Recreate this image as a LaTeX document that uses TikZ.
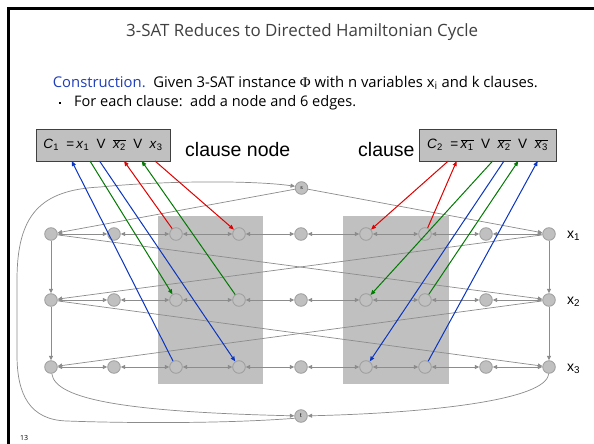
\documentclass[tikz,border=0pt]{standalone}
\usepackage{fontspec}
\usetikzlibrary{arrows.meta}
\setmainfont{Open Sans}
\newfontfamily\arialf{Liberation Sans}
\newfontfamily\symf{Liberation Serif}
\definecolor{titlegray}{HTML}{404040}
\definecolor{conblue}{HTML}{1F3FB8}
\definecolor{boxgray}{HTML}{C0C0C0}
\definecolor{edgegray}{HTML}{8C8C8C}
\definecolor{vtxline}{HTML}{9C9C9C}
\definecolor{litred}{HTML}{E00000}
\definecolor{litgreen}{HTML}{007A00}
\definecolor{litblue}{HTML}{0A35C0}
\newcommand{\vx}[1]{\textit{x}\textsubscript{#1}}
\newcommand{\nvx}[1]{$\overline{\mbox{\vx{#1}}}$}
\begin{document}
\begin{tikzpicture}[x=1pt,y=-1pt,
  vtx/.style={circle,minimum size=12.6pt,inner sep=0pt,fill=boxgray,draw=vtxline,line width=0.8pt},
  gedge/.style={draw=edgegray,line width=0.7pt,>={Triangle[length=4.5pt,width=4pt]}},
  cedge/.style={line width=1pt,-{Triangle[length=5pt,width=4pt]}},
  cbox/.style={rectangle,fill=boxgray,draw=black!75,line width=0.9pt,minimum width=134pt,minimum height=32pt,inner sep=0pt},
  lbl/.style={font=\arialf\fontsize{19.5}{22}\selectfont,inner sep=0pt,anchor=base west},
  rowlbl/.style={font=\arialf\fontsize{14}{16}\selectfont,inner sep=0pt,anchor=base west}]
\useasboundingbox (0,0) rectangle (594,444);
\fill[white] (0,0) rectangle (594,444);
% slide frame
\draw[line width=3pt,line join=miter] (8.6,444) -- (8.6,8.8) -- (594,8.8);

% heading and text
\node[inner sep=0pt,anchor=base west,text=titlegray] (title) at (126,36.5)
  {\resizebox{352pt}{!}{\fontsize{16}{19}\selectfont 3-SAT Reduces to Directed Hamiltonian Cycle}};
\node[inner sep=0pt,anchor=base west] (line1) at (52.7,87)
  {\resizebox{485pt}{!}{\fontsize{14}{17}\selectfont{\color{conblue}Construction.}\ \ Given 3-SAT instance {\symf Φ} with n variables x\textsubscript{i} and k clauses.}};
\node[fill=black,inner sep=0pt,minimum size=2.6pt] (bul) at (60,103) {};
\node[inner sep=0pt,anchor=base west] (line2) at (74,106.5)
  {\resizebox{282pt}{!}{\fontsize{14}{17}\selectfont For each clause:\ \ add a node and 6 edges.}};
\node[inner sep=0pt,anchor=base west,font=\fontsize{7}{8}\selectfont] (pg) at (20,440) {13};

% shaded clause gadgets
\fill[boxgray] (158,216) rectangle (263,384);
\fill[boxgray] (343,216) rectangle (449,384);

% clause nodes
\node[cbox] (C1) at (103,145)
  {\resizebox{119pt}{!}{\arialf\fontsize{14}{16}\selectfont\textit{C}\textsubscript{1}\ \ =\,\vx{1}\ \ V\ \ \nvx{2}\ \ V\ \ \vx{3}}};
\node[cbox,minimum width=137pt] (C2) at (487.5,145)
  {\resizebox{120.6pt}{!}{\arialf\fontsize{14}{16}\selectfont\textit{C}\textsubscript{2}\ \ =\,\nvx{1}\ \ V\ \ \nvx{2}\ \ V\ \ \nvx{3}}};
\node[lbl] (cn) at (185,156) {clause node};
\node[lbl] (cl) at (358,156.5) {clause};

% variable paths
\foreach \r/\y in {1/234,2/300,3/367}{
  \foreach \c/\x in {1/51,2/114,3/176,4/239,5/301,6/366,7/425,8/486,9/549}{
    \node[vtx] (v\r\c) at (\x,\y) {};
  }
}
\node[rowlbl] (l1) at (567,238) {x\textsubscript{1}};
\node[rowlbl] (l2) at (567,304.5) {x\textsubscript{2}};
\node[rowlbl] (l3) at (567,371) {x\textsubscript{3}};
\node[vtx,font=\arialf\fontsize{5}{5}\selectfont] (s) at (301.5,188) {s};
\node[vtx,font=\arialf\fontsize{6}{6}\selectfont] (t) at (301,416) {t};

\foreach \r in {1,2,3}{
  \foreach \c [evaluate=\c as \d using int(\c+1)] in {1,...,8}{
    \draw[gedge,<->] (v\r\c) -- (v\r\d);
  }
}
\draw[gedge,->] (v11) -- (v21);
\draw[gedge,->] (v21) -- (v31);
\draw[gedge,->] (v19) -- (v29);
\draw[gedge,->] (v29) -- (v39);
\draw[gedge,->] (v11) -- (v29);
\draw[gedge,->] (v19) -- (v21);
\draw[gedge,->] (v21) -- (v39);
\draw[gedge,->] (v29) -- (v31);
\draw[gedge,->] (s) -- (v11);
\draw[gedge,->] (s) -- (v19);
\draw[gedge,->] (v31) .. controls (55,400) and (130,412) .. (t);
\draw[gedge,->] (v39) .. controls (547,400) and (430,413) .. (t);
\draw[gedge,->] (t.200) .. controls (220,424) and (120,423) .. (67,421)
  .. controls (30,420) and (17,395) .. (17,355) -- (17,280)
  .. controls (17,215) and (40,190) .. (100,187)
  .. controls (160,181) and (250,180) .. (s.165);

% clause edges
\foreach \n/\x in {a/71.7,b/90,c/99.5,d/124,e/141.7,f/155,g/448.3,h/456.7,i/492.7,j/504,k/518.3,l/537.7}{
  \coordinate (p\n) at (\x,161);
}
\draw[cedge,litblue]  (v33) -- (pa);
\draw[cedge,litgreen] (pb) -- (v23);
\draw[cedge,litblue]  (pc) -- (v34);
\draw[cedge,litred]   (v13) -- (pd);
\draw[cedge,litgreen] (v24) -- (pe);
\draw[cedge,litred]   (pf) -- (v14);
\draw[cedge,litred]   (pg) -- (v16);
\draw[cedge,litred]   (v17) -- (ph);
\draw[cedge,litgreen] (pi) -- (v26);
\draw[cedge,litblue]  (pj) -- (v36);
\draw[cedge,litgreen] (v27) -- (pk);
\draw[cedge,litblue]  (v37) -- (pl);
\end{tikzpicture}
\end{document}
